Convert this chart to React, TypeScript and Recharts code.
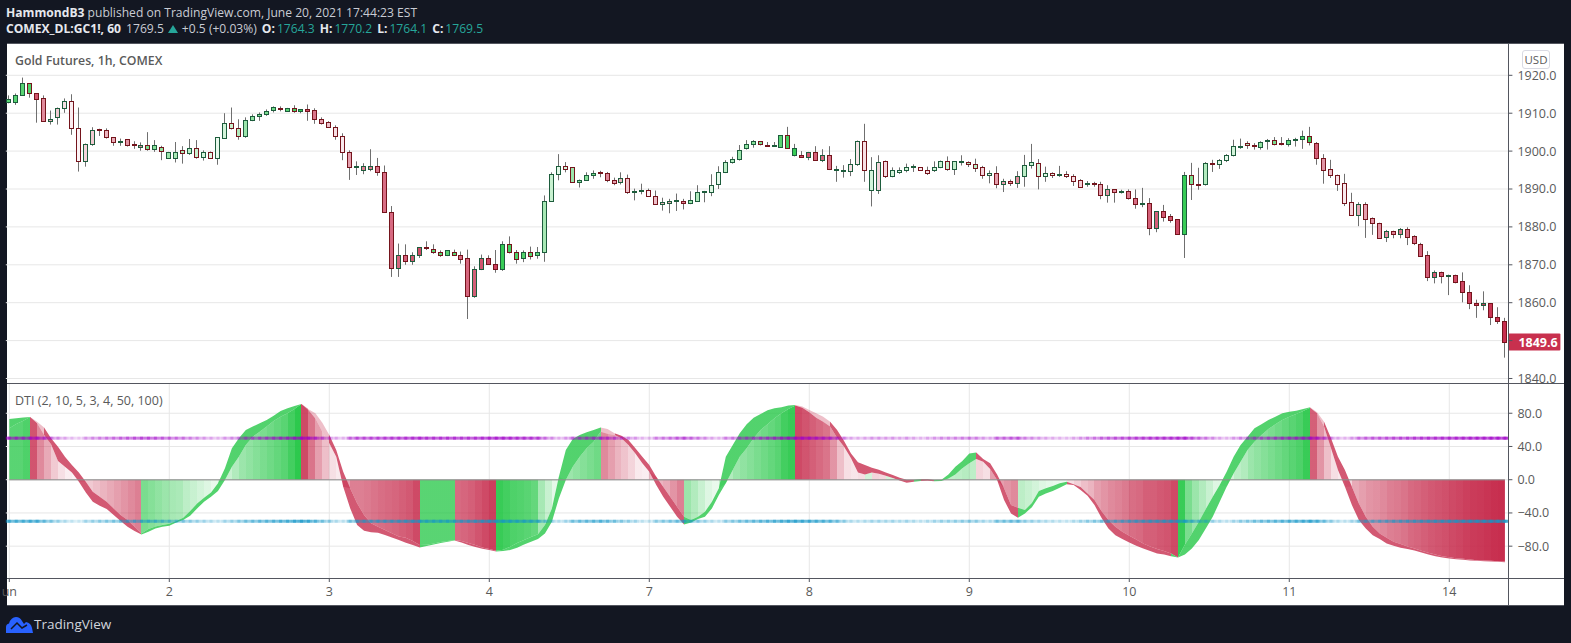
import { ComposedChart, Bar, Area, Line, XAxis, YAxis, CartesianGrid, ReferenceLine } from "recharts"

// bar-by-bar prices
const opens = [1913,1913,1914.7,1917.9,1915.2,1913.9,1908,1908.9,1911.5,1913.1,1906,1897.3,1902,1905.8,1905.7,1903.6,1902.6,1903.1,1901.8,1901.2,1901.5,1900.5,1901.2,1898.3,1898.3,1900.2,1899.6,1900.7,1898.5,1899.7,1898.3,1903.5,1907.3,1906,1904.1,1908.1,1909.2,1909.7,1910.8,1911.5,1910.5,1911.3,1910.5,1911,1910.8,1908.6,1907.6,1906.3,1904.1,1899.7,1895.7,1895.1,1895.2,1896.2,1894.4,1884,1869.2,1872.6,1871,1872.6,1874.6,1874.3,1873.5,1872.6,1873.5,1872.6,1871.7,1861.8,1868.8,1871.7,1870.3,1869,1875.4,1873.3,1871.7,1873.3,1872.6,1873.3,
  1886.9,1893.9,1896.2,1895.7,1891.9,1892.5,1893.7,1894.4,1894.3,1892.5,1891.9,1893,1889.2,1889.5,1889.8,1888.2,1886,1886.3,1886.8,1886.9,1886.3,1886.9,1889.3,1889.3,1891.4,1894.6,1897,1897.8,1900.7,1901.8,1902.6,1901.6,1901.4,1901.2,1904.2,1898.9,1898.9,1898.5,1899.7,1897.7,1899.1,1895,1894.8,1894.8,1896.7,1902.6,1889.8,1889.8,1897.3,1893.3,1894.6,1895.1,1895.8,1895.7,1895.1,1895.1,1895.8,1897.5,1895.3,1897.2,1897,1896.5,1895.7,1893.7,1894.3,1891.3,1892,1891.6,1893.3,
  1896.3,1896.8,1893.3,1894.2,1893.6,1893.9,1893.4,1892.3,1891.4,1891.5,1891.3,1888.3,1889.9,1889.1,1889.4,1887.6,1886.1,1886.2,1879.6,1884.1,1882.8,1882,1878.2,1893.6,1891.3,1891.2,1896.8,1896.5,1897.6,1898.9,1901.1,1902.1,1901.7,1901.2,1902.6,1902.9,1902.1,1901.8,1902.8,1903.1,1904,1902.1,1898.1,1895.2,1893.6,1891.5,1886.5,1883.2,1886,1882.3,1881.1,1877.4,1879,1878.2,1879.5,1877.5,1875.6,1872.5,1866.9,1868.2,1867.1,1867.2,1865.6,1862.7,1859.8,1859.5,1859.8,1856.3,1855.2]
const closes = [1913.8,1914.7,1917.9,1915.2,1913.8,1908,1908.6,1911.5,1913.1,1906,1897.3,1902,1905.7,1905.6,1903.6,1902.3,1902.7,1901.7,1901.5,1901.5,1900.5,1901.5,1900,1899.8,1899.8,1899.6,1900.7,1898.5,1899.7,1898.3,1903.6,1907.3,1906,1904.1,1908.1,1909.2,1909.7,1910.5,1911.7,1911,1911.3,1910.5,1911,1910.7,1908.6,1907.5,1906.4,1904.1,1899.7,1895.7,1896,1896,1896.2,1894.5,1884,1869.2,1872.6,1871,1872.6,1874.6,1874.4,1873.4,1872.7,1873.8,1872.7,1871.4,1861.8,1868.8,1871.7,1870.3,1869,1875.4,1873.3,1871.5,1873.4,1872.2,1873.3,1886.9,
  1893.9,1896.2,1895.3,1891.9,1892.5,1893.8,1894.3,1894.1,1892.4,1891.6,1893,1889.2,1889.6,1889.8,1888.1,1886.1,1886.6,1886.9,1887,1886.3,1887.2,1889.3,1889.5,1891.1,1894.6,1897,1897.8,1900.4,1901.8,1902.6,1902,1901.4,1901.6,1904.2,1900.7,1900.7,1898.5,1899.7,1897.7,1899.1,1895.3,1895.2,1894.9,1896.7,1902.6,1895.1,1895.1,1897,1893.5,1894.9,1895.1,1895.9,1896,1895.1,1894.3,1895.9,1897.5,1895.3,1897.3,1897.4,1896.5,1895.6,1893.7,1894.3,1891.3,1892,1891.6,1893.3,1896.3,
  1897.1,1893.3,1894.2,1893.6,1893.9,1893.3,1892.2,1890.6,1891.6,1891.2,1888.3,1890,1889.1,1889.4,1887.7,1886.1,1886.3,1879.6,1884.1,1882.7,1881.9,1878.2,1893.6,1891.2,1891.1,1896.8,1896.5,1897.6,1898.9,1901.3,1901.3,1901.5,1901.3,1902.5,1902.8,1902,1901.8,1902.9,1903.3,1904,1902.4,1898.1,1895.1,1893.6,1891.4,1886.4,1883.1,1886,1882.2,1881.1,1877.1,1879,1878.2,1879.5,1877.4,1875.8,1872.4,1866.8,1868.2,1867.1,1867.4,1865.4,1862.8,1859.9,1859.5,1859.8,1856.2,1855.2,1849.6]
const highs = [1914.7,1915.2,1919.4,1917.9,1915.2,1914.7,1910.7,1911.5,1913.9,1915,1911.5,1902,1906.3,1905.9,1906,1903.6,1903.3,1903.1,1902.6,1902.3,1905,1902.9,1901.4,1899.8,1902.4,1901.3,1903.2,1902.9,1900.2,1899.9,1903.6,1910,1911.5,1908.4,1908.9,1909.7,1910.2,1911,1911.8,1911.8,1911.4,1912.1,1911,1912.3,1911.3,1908.9,1907.9,1906.8,1904.7,1900.2,1897.3,1896.8,1900.5,1898.2,1896.2,1885.5,1875.6,1875.4,1873.3,1874.6,1876.2,1875.4,1873.8,1873.8,1874,1873.5,1874,1869.6,1872.7,1872.5,1873.9,1876.2,1877.5,1873.9,1873.8,1874.8,1874.7,1888.3,
  1894.4,1899.2,1897.1,1895.7,1892.5,1894.4,1894.9,1894.8,1894.5,1893,1894.4,1893.8,1890.1,1891.4,1890.1,1889.6,1887.7,1887.4,1888.8,1887.4,1889.4,1891,1889.5,1893.9,1896,1897.6,1898.5,1901.6,1902.9,1902.9,1902.6,1902.4,1902.4,1904.2,1906.4,1901.9,1900,1899.8,1901.3,1900.5,1901.3,1896.1,1896.3,1897.9,1902.8,1907.2,1898.4,1898.9,1897.5,1895.7,1895.7,1896.7,1896.5,1895.8,1895.9,1897.3,1897.5,1898.6,1897.3,1898.9,1897.3,1898,1896.1,1894.9,1896,1892.7,1892.5,1894.7,1899,
  1901.9,1897.9,1895.9,1894.4,1896.1,1894.7,1893.9,1892.6,1892.1,1891.9,1891.9,1891,1889.9,1889.8,1889.9,1889.9,1890.3,1887.6,1884.1,1885.8,1883.4,1882,1894.5,1896.9,1895.6,1897.1,1897.7,1897.9,1899.2,1903,1903.3,1902.6,1902.1,1902.6,1903.2,1903.7,1903.7,1903.4,1903.5,1905.4,1906.4,1902.4,1899.2,1897.7,1893.8,1894,1889,1886.5,1886.5,1882.5,1881.1,1879.2,1879,1879.7,1879.9,1877.8,1875.8,1873.6,1868.5,1868.2,1867.4,1867.4,1868,1864.6,1860.8,1863,1859.8,1858.8,1856]
const lows = [1912.6,1912.2,1914.7,1914.1,1907.5,1908,1907,1907,1910.1,1904.3,1894.6,1895.9,1901.4,1904,1903.3,1901.4,1901.4,1901.2,1900.6,1900.1,1900.1,1899.8,1897.6,1898,1897,1896.7,1899,1898,1897.5,1898,1896.4,1903.3,1905.7,1903,1903.5,1907.9,1908,1909.3,1910.2,1910.5,1910.4,1910.1,1910,1908,1907.2,1907,1906.2,1903,1897.6,1892.4,1893.7,1893.9,1894.7,1893.5,1883.7,1866.8,1866.8,1870,1870,1871.8,1873.9,1872.9,1872.1,1872.3,1872.5,1870.3,1855.7,1861.3,1868.6,1870,1867.9,1868.4,1873,1870.3,1870.7,1871.4,1871.6,1870.8,
  1886.8,1892.3,1894.4,1891.7,1890.4,1892.3,1892.7,1893.1,1891.8,1891,1891.2,1888.7,1887,1888.6,1887.9,1886,1884.3,1883.6,1884.2,1884.6,1886,1886.7,1886.5,1888.1,1890,1894.2,1896.7,1897.5,1900.4,1900.9,1901.5,1901.1,1901.1,1901.2,1900.7,1898.6,1898.3,1897.6,1897.5,1897.1,1895,1891.9,1893,1893.4,1896.1,1891.9,1885.4,1888.7,1892.9,1893.1,1894,1894.4,1894.5,1894.9,1893.7,1894.5,1895.5,1894.8,1893.7,1896.2,1895.8,1894.5,1892.7,1891.5,1890.2,1889.2,1890.8,1890.3,1890.6,
  1895.4,1889.9,1891.9,1892.9,1893.2,1892.9,1890.8,1890.4,1890.6,1890.6,1887.3,1886.4,1886.4,1888.8,1887.2,1884.8,1885.2,1877.8,1878.6,1881.4,1881.1,1877.9,1871.8,1887.1,1889.8,1890.9,1894.5,1895.3,1897.1,1898.6,1900.6,1900.6,1900.4,1900.4,1900.4,1901.5,1901.5,1901.2,1901.2,1900.6,1901.5,1896.4,1891.4,1892.9,1889.5,1885.5,1883,1880.2,1877.1,1877.9,1877,1876,1877,1877,1875.2,1875.2,1872.1,1865.7,1865.1,1865.1,1862,1865.1,1860.1,1858.3,1856,1858,1854.1,1854.4,1845.5]

// signed strength of the DTI colour per bar: green above zero, red below
const shade = [.75,.75,.75,.8,-.8,-.55,-.4,-.25,-.15,-.08,-.05,-.2,-.25,-.3,-.35,-.4,-.45,-.5,-.55,-.6,.6,.55,.5,.45,.4,.38,.3,.25,.2,.15,.1,.2,.25,.35,.45,.5,.55,.6,.65,.7,.75,.85,.95,-.85,-.65,-.45,-.3,-.15,-.1,-.45,-.6,-.6,-.62,-.65,-.68,-.7,-.72,-.75,-.78,-.85,.75,.75,.75,.75,.75,-.7,-.72,-.75,-.8,-.85,-.9,.9,.85,.8,.78,.75,.7,.4,.25,.12,.2,.45,.5,.55,.6,.65,-.55,-.45,-.35,-.28,-.2,-.1,-.08,-.3,-.35,-.4,-.5,-.6,.45,.35,.25,.15,.1,.3,.35,.45,.5,.55,.6,.65,.7,.75,.85,.9,-.85,-.8,-.75,-.7,-.65,-.5,-.3,-.15,-.12,-.15,.2,-.2,-.18,.2,.15,.2,.15,-.1,-.15,.2,.25,.25,.28,.3,.33,.3,-.2,-.15,-.45,-.45,-.5,-.55,.3,.25,.2,.15,.12,.1,.08,-.15,-.22,-.3,-.35,-.45,-.5,-.55,-.58,-.62,-.68,-.7,-.75,-.75,-.78,-.8,-.85,.9,.6,.45,.35,.25,.15,.1,.2,.3,.35,.45,.5,.55,.6,.65,.7,.75,.8,.9,-.75,-.5,-.3,-.15,-.1,-.2,-.4,-.45,-.5,-.52,-.55,-.6,-.62,-.65,-.7,-.72,-.75,-.78,-.8,-.82,-.85,-.87,-.9,-.92,-.93,-.95,-.97,-.98]

// DTI lines
const fast = [73,74,75,75.5,67.9,53.8,42.6,22.5,15.7,8.8,-2.4,-15.3,-26.5,-31.3,-35.3,-42.6,-49.8,-56.6,-61.8,-65.9,-59.4,-56.2,-54.6,-53,-49.8,-45.8,-37.8,-28.5,-21.7,-15.3,-4.4,13.7,37.8,49.8,59.8,63.9,67.9,71.9,77.1,82.7,85.9,88.8,91.2,83.9,73.8,57.8,43.8,27.7,-8.4,-34.4,-54.5,-61.3,-63.3,-63.7,-66.5,-69.7,-72.5,-75.9,-78.7,-81.5,-78.3,-76.7,-75.1,-73.9,-72.7,-75.5,-78.7,-81.1,-83.1,-84.7,-86.3,-84.3,-80.7,-76.3,-72.7,-69.1,-65.5,-54.6,-34.5,3.6,35.7,49,53.8,57,59.8,62.7,55.4,53.8,49.8,41.8,31.7,19.7,9.6,-6.4,-20.5,-32.5,-44.6,-53.8,-48.6,-44.6,-38.6,-26.5,-10.4,27.7,41.8,55.8,66.7,74.7,79.1,83.5,85.9,87.1,89.2,90,86.7,81.1,74.7,69.9,63.9,50.6,39.8,25.7,8.8,6.4,8.8,7.2,4.8,2,-.8,-3.6,-2.4,.8,-1.2,-2,0,6.4,15.7,22.5,31.7,32.9,21.7,12.9,-.4,-24.5,-40.6,-45.8,-36.5,-28,-13.7,-10.4,-7.6,-4.4,-2.4,-6.4,-12.4,-19.3,-30.5,-45.8,-58.6,-66.7,-71.5,-75.5,-79.5,-82.7,-85.9,-88.8,-90,-92,-93.6,-77.9,-64.7,-50.6,-35.3,-20.5,-6.4,9.6,27.7,41.8,51.8,61.8,66.7,71.9,75.9,80,81.9,83.1,85.1,87.1,79.9,63.9,37.8,11.6,-8.4,-30.5,-48.6,-58.6,-66.7,-71.5,-76.7,-79.5,-81.9,-83.5,-85.1,-87.5,-90,-92,-93.6,-94.8,-95.6,-96.4,-97.2,-97.6,-98,-98.4,-98.8,-99.2]
const slow = [62,67,71,75.5,69.9,62.7,49.8,39.8,27.7,17.7,8.8,-2.4,-14.5,-20.5,-26.5,-34.5,-42.6,-48.6,-56.6,-64.7,-62.6,-58.6,-56.6,-55.4,-51.4,-48.6,-43.4,-34.5,-26.5,-20.5,-13.7,-.4,15.7,27.7,41.8,51.8,57.8,63.9,70.7,75.9,79.9,85.1,91.2,84.7,79.9,68.6,53.8,35.7,9.7,-10.4,-28.4,-42.4,-52.5,-56.5,-60.5,-64.5,-68.5,-69.9,-73.9,-78.7,-79.9,-77.9,-76.3,-74.7,-73.1,-73.9,-76.3,-78.7,-81.5,-83.5,-85.5,-85.9,-84.7,-81.9,-77.9,-74.7,-71.5,-64.7,-50.6,-22.5,-.4,15.7,27.7,37.8,45.8,57.8,61,55.8,53,47.8,37.8,27.7,17.7,3.6,-8.4,-20.5,-32.5,-44.6,-51.4,-47.4,-44.6,-34.5,-18.5,-4.4,11.6,27.7,37.8,49.8,59.8,66.7,73.9,79.9,85.1,89.2,88,83.9,79.9,75.9,69.9,59.8,46.6,31.7,20.9,17.7,14.5,12,8.8,5.6,2.4,0,0,-1.6,.8,-.4,-1.6,1.6,6.4,13.7,19.7,24.9,24.9,19.7,6.4,-10.4,-30.5,-33.7,-40.6,-33,-20.5,-16.5,-13.7,-9.6,-5.6,-5.6,-8.8,-16.5,-24.5,-37.8,-48.6,-56.6,-62.6,-67.5,-71.9,-76.7,-80.3,-83.5,-85.9,-88.8,-93.6,-90,-82.7,-72.7,-58.6,-44.6,-26.5,-8.4,7.6,21.7,35.7,45.8,53.8,61,66.7,71.9,75.9,79.1,82.7,86.7,81.1,69.9,49.8,27.7,11.6,-8.4,-28.5,-44.6,-56.6,-64.7,-69.9,-74.7,-77.5,-80.3,-82.7,-85.5,-88,-90,-92,-93.2,-94.4,-95.2,-96,-96.8,-97.2,-97.6,-98,-98.4]
// bars right after a peak where the ring between the lines is washed out
const paleBandBars = [4,5,44,45,46,86,87,114,115,116,117,118,188,189]

const dayBars = [0,23,46,69,92,115,138,161,184,207]
const dayLabels = ["un","2","3","4","7","8","9","10","11","14"]
const priceTicks = [1840,1850,1860,1870,1880,1890,1900,1910,1920]
const dtiTicks = [-80,-40,0,40,80]
const lastPrice = 1849.6

const GREEN = "#22c644"
const RED = "#c62a4b"
const PURPLE = "#a000c8"
const BLUE = "#1496c8"
const FONT = "'Open Sans', sans-serif"

const priceRows = opens.map((open, i) => ({
  bar: i,
  open,
  close: closes[i],
  high: highs[i],
  low: lows[i],
  range: [lows[i], highs[i]],
  shade: shade[i]
}))

const dtiRows = fast.map((f, i) => ({
  bar: i,
  // the columns stop at whichever line is nearer zero, the band covers the rest
  hist: Math.abs(f) < Math.abs(slow[i]) ? f : slow[i],
  band: [Math.min(f, slow[i]), Math.max(f, slow[i])],
  shade: shade[i],
  upper: 50,
  lower: -50,
  zero: 0
}))

function fillFor(s: number) {
  return s >= 0 ? GREEN : RED
}

// hard stops, one colour for each segment between two bars
function segmentStops(colorOf: (i: number) => string, alphaOf: (i: number) => number) {
  const n = shade.length - 1
  const stops: any[] = []
  for (let i = 1; i <= n; i++) {
    stops.push(<stop key={i + "a"} offset={(i - 1) / n} stopColor={colorOf(i)} stopOpacity={alphaOf(i)} />)
    stops.push(<stop key={i + "b"} offset={i / n} stopColor={colorOf(i)} stopOpacity={alphaOf(i)} />)
  }
  return stops
}

function Candle(props: any) {
  const { x, y, width, height, payload } = props
  const { open, close, high, low } = payload
  const perUnit = height / (high - low)
  const yOf = (v: number) => y + (high - v) * perUnit
  const cx = Math.round(x + width / 2) - 0.5
  const top = Math.round(yOf(Math.max(open, close))) + 0.5
  const bottom = Math.max(Math.round(yOf(Math.min(open, close))) + 0.5, top + 1)
  const border = close >= open ? "#1d5c3c" : "#74141c"
  return (
    <g>
      <line x1={cx} x2={cx} y1={y} y2={y + height} stroke="#6f6f6f" strokeWidth={1} />
      <rect x={cx - 2} y={top} width={4} height={bottom - top} fill="#fff" />
      <rect
        x={cx - 2}
        y={top}
        width={4}
        height={bottom - top}
        fill={fillFor(payload.shade)}
        fillOpacity={Math.abs(payload.shade)}
        stroke={border}
        strokeWidth={1}
      />
    </g>
  )
}

function levelDot(color: string) {
  return (p: any) => {
    const a = 0.1 + 0.9 * Math.pow(Math.abs(p.payload.shade), 0.8)
    return (
      <g key={p.index}>
        <rect x={p.cx - 3.5} y={p.cy - 1.5} width={7} height={3} fill={color} fillOpacity={a * 0.75} />
        <rect x={p.cx - 1.5} y={p.cy - 1.5} width={3} height={3} fill={color} fillOpacity={a * 0.6} />
      </g>
    )
  }
}

function PriceTag(props: any) {
  const { viewBox } = props
  const left = viewBox.x + viewBox.width
  return (
    <g>
      <rect x={left} y={viewBox.y - 8.5} width={52} height={17} rx={1} fill="#c8304e" />
      <text x={left + 10} y={viewBox.y + 4.5} fill="#fff" fontSize={12.5} fontWeight={700} fontFamily={FONT}>
        {lastPrice.toFixed(1)}
      </text>
    </g>
  )
}

const tickStyle = { fill: "#5a5a5a", fontSize: 12.5, fontFamily: FONT }
const gridColor = "#e7e7e7"
const axisColor = "#53565f"
const teal = "#26a69a"
const headBold = "#e6e8ee"

function Rule(props: { left: number; top: number; width: number; height: number }) {
  return <div style={{ position: "absolute", background: axisColor, ...props }} />
}

function Quote(props: { name: string; value: string }) {
  return (
    <span style={{ marginLeft: 5 }}>
      <b style={{ color: headBold }}>{props.name}</b>
      <span style={{ color: teal, marginLeft: 2 }}>{props.value}</span>
    </span>
  )
}

export default function App() {
  return (
    <div style={{ position: "absolute", left: 0, top: 0, width: 1571, height: 643, background: "#131722", overflow: "hidden", fontFamily: FONT }}>
      <div style={{ position: "absolute", left: 6, top: 4, fontSize: 12.1, lineHeight: "18px", color: "#c9ccd4", whiteSpace: "nowrap" }}>
        <b style={{ color: headBold }}>HammondB3</b> published on TradingView.com, June 20, 2021 17:44:23 EST
      </div>
      <div style={{ position: "absolute", left: 6, top: 20, fontSize: 12.1, lineHeight: "18px", color: "#c9ccd4", whiteSpace: "nowrap" }}>
        <b style={{ color: headBold }}>COMEX_DL:GC1!, 60</b>
        <span style={{ marginLeft: 5 }}>1769.5</span>
        <svg width={10} height={8} style={{ margin: "0 4px 0 4px" }}>
          <polygon points="0,8 5,0 10,8" fill={teal} />
        </svg>
        +0.5 (+0.03%)
        <Quote name="O:" value="1764.3" />
        <Quote name="H:" value="1770.2" />
        <Quote name="L:" value="1764.1" />
        <Quote name="C:" value="1769.5" />
      </div>

      <div style={{ position: "absolute", left: 7, top: 44, width: 1557, height: 562, background: "#fff" }} />

      <div style={{ position: "absolute", left: 0, top: 44 }}>
        <ComposedChart
          width={1571}
          height={349.5}
          data={priceRows}
          barCategoryGap={0}
          margin={{ top: 0, right: 6.6, bottom: 10, left: 5.82 }}
        >
          <CartesianGrid stroke={gridColor} syncWithTicks />
          <XAxis dataKey="bar" type="category" ticks={dayBars} interval={0} height={0} axisLine={false} tickLine={false} tick={false} />
          <YAxis
            orientation="right"
            width={56}
            domain={[1838.68, 1928.26]}
            allowDataOverflow
            ticks={priceTicks}
            interval={0}
            axisLine={false}
            tickSize={4}
            tickMargin={5}
            tickLine={{ stroke: axisColor }}
            tick={tickStyle}
            tickFormatter={(v: number) => (v === 1850 ? "" : v.toFixed(1))}
          />
          <Bar dataKey="range" shape={<Candle />} isAnimationActive={false} />
          <ReferenceLine y={lastPrice} stroke="none" label={<PriceTag />} />
        </ComposedChart>
      </div>

      <div style={{ position: "absolute", left: 0, top: 384 }}>
        <ComposedChart
          width={1571}
          height={222}
          data={dtiRows}
          margin={{ top: 0, right: 6.6, bottom: 0, left: 5.82 }}
        >
          <defs>
            <linearGradient id="dtiHist" x1="0" y1="0" x2="1" y2="0">
              {segmentStops(i => fillFor(shade[i]), i => Math.abs(shade[i]))}
            </linearGradient>
            <linearGradient id="dtiBand" x1="0" y1="0" x2="1" y2="0">
              {segmentStops(i => fillFor(fast[i] - slow[i]), i => (paleBandBars.includes(i) ? 0.3 : 0.78))}
            </linearGradient>
          </defs>
          <CartesianGrid stroke={gridColor} syncWithTicks />
          <XAxis
            dataKey="bar"
            type="category"
            scale="band"
            height={28}
            ticks={dayBars}
            interval={0}
            axisLine={false}
            tickSize={4}
            tickMargin={5}
            tickLine={{ stroke: axisColor }}
            tick={tickStyle}
            tickFormatter={(v: number) => dayLabels[dayBars.indexOf(v)]}
          />
          <YAxis
            orientation="right"
            width={56}
            domain={[-118.3, 115.2]}
            allowDataOverflow
            ticks={dtiTicks}
            interval={0}
            axisLine={false}
            tickSize={4}
            tickMargin={5}
            tickLine={{ stroke: axisColor }}
            tick={tickStyle}
            tickFormatter={(v: number) => v.toFixed(1).replace("-", "\u2212")}
          />
          <Area dataKey="hist" baseValue={0} stroke="none" fill="url(#dtiHist)" fillOpacity={1} isAnimationActive={false} />
          <Area dataKey="band" stroke="none" fill="url(#dtiBand)" fillOpacity={1} isAnimationActive={false} />
          <Line dataKey="zero" stroke="#8f8f8f" strokeOpacity={0.7} strokeWidth={1.5} dot={false} isAnimationActive={false} />
          <Line dataKey="upper" stroke="none" dot={levelDot(PURPLE)} isAnimationActive={false} />
          <Line dataKey="lower" stroke="none" dot={levelDot(BLUE)} isAnimationActive={false} />
        </ComposedChart>
      </div>

      <Rule left={7} top={43} width={1557} height={1} />
      <Rule left={7} top={383} width={1557} height={1} />
      <Rule left={7} top={578} width={1557} height={1} />
      <Rule left={7} top={605} width={1557} height={1} />
      <Rule left={1508} top={44} width={1} height={562} />

      <div style={{ position: "absolute", left: 15, top: 52, fontSize: 12.3, fontWeight: 600, color: "#5a5a5a" }}>Gold Futures, 1h, COMEX</div>
      <div style={{ position: "absolute", left: 15, top: 392, fontSize: 12.5, color: "#5a5a5a" }}>DTI (2, 10, 5, 3, 4, 50, 100)</div>
      <div style={{ position: "absolute", left: 1522, top: 50, width: 26, height: 17, border: "1px solid #d9dae3", borderRadius: 3, fontSize: 11.5, lineHeight: "17px", textAlign: "center", color: "#5a5a5a" }}>USD</div>

      <svg style={{ position: "absolute", left: 6, top: 616 }} width={27} height={17} viewBox="0 0 27 17">
        <path d="M0 17 L0 11 Q0 8 3 7.5 Q5 1 10 1 Q14 1 16 5 L18 8 L20 6 Q25 7 26 12 L27 17 Z" fill="#2962ff" />
        <path d="M5 13 L11 7 L16 12 L21 9" fill="none" stroke="#131722" strokeWidth={1.5} />
      </svg>
      <div style={{ position: "absolute", left: 34, top: 615, fontSize: 13.5, color: "#d1d4dc" }}>TradingView</div>
    </div>
  )
}
